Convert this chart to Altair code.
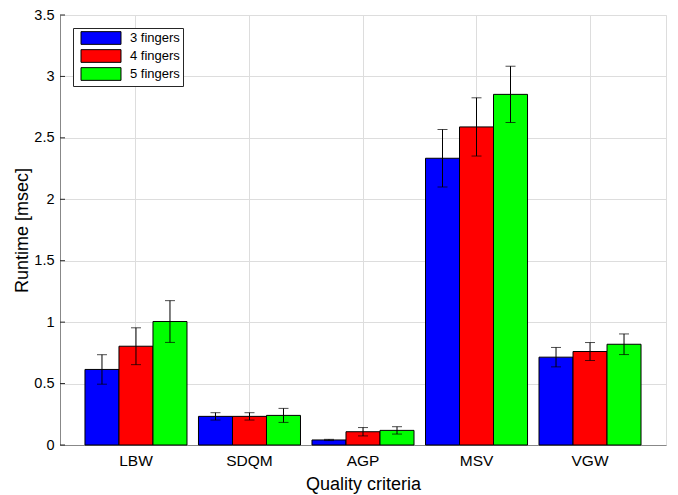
import altair as alt
import pandas as pd

categories = ["LBW", "SDQM", "AGP", "MSV", "VGW"]
series = ["3 fingers", "4 fingers", "5 fingers"]
colors = ["#0000ff", "#ff0000", "#00ff00"]

means_3 = [0.615, 0.233, 0.041, 2.334, 0.715]
means_4 = [0.804, 0.233, 0.108, 2.589, 0.761]
means_5 = [1.005, 0.241, 0.119, 2.854, 0.820]
err_3 = [0.120, 0.030, 0.005, 0.234, 0.079]
err_4 = [0.150, 0.030, 0.034, 0.237, 0.073]
err_5 = [0.170, 0.057, 0.030, 0.229, 0.084]

y_ticks = [0, 0.5, 1, 1.5, 2, 2.5, 3, 3.5]

rows = []
for s, m, e in zip(series, [means_3, means_4, means_5], [err_3, err_4, err_5]):
    for c, mv, ev in zip(categories, m, e):
        rows.append({"cat": c, "series": s, "mean": mv, "lo": mv - ev, "hi": mv + ev})
df = pd.DataFrame(rows)
ticks_df = pd.DataFrame({"t": y_ticks})

FONT = "Liberation Sans"
TXT = "#262626"

x_enc = alt.X("cat:N", sort=categories,
              scale=alt.Scale(paddingInner=0.1013, paddingOuter=0.22),
              axis=alt.Axis(title="Quality criteria", labelAngle=0, grid=True, ticks=False,
                            labelFontSize=15.5, titleFontSize=18, labelPadding=8, titlePadding=7,
                            titleFontWeight="normal"))
xo_enc = alt.XOffset("series:N", sort=series, scale=alt.Scale(paddingInner=0, paddingOuter=0))
y_scale = alt.Scale(domain=[0, 3.5], nice=False, zero=True)

legend = alt.Legend(
    title=None, orient="none", legendX=13, legendY=13,
    symbolType="M-3.15,-1L3.15,-1L3.15,1L-3.15,1Z", symbolSize=161,
    symbolStrokeColor="black", symbolStrokeWidth=1,
    symbolOffset=18, labelOffset=22,
    labelFontSize=13, labelFont=FONT, labelColor="black",
    strokeColor=TXT, fillColor="white", padding=3, rowPadding=0,
)

bars = alt.Chart(df).mark_bar(stroke="black", strokeWidth=1).encode(
    x=x_enc,
    xOffset=xo_enc,
    y=alt.Y("mean:Q", scale=y_scale,
            axis=alt.Axis(title="Runtime [msec]", values=y_ticks, grid=True, ticks=False,
                          format="~g",
                          labelFontSize=14.5, titleFontSize=18, labelPadding=6, titlePadding=2,
                          titleFontWeight="normal")),
    color=alt.Color("series:N", sort=series, scale=alt.Scale(domain=series, range=colors), legend=legend),
)

err = alt.Chart(df).mark_rule(color="black", strokeWidth=1).encode(
    x=alt.X("cat:N", sort=categories), xOffset=alt.XOffset("series:N", sort=series),
    y=alt.Y("lo:Q"), y2="hi:Q")

cap_lo = alt.Chart(df).mark_tick(color="black", size=10, thickness=1, orient="horizontal").encode(
    x=alt.X("cat:N", sort=categories), xOffset=alt.XOffset("series:N", sort=series),
    y=alt.Y("lo:Q"))
cap_hi = alt.Chart(df).mark_tick(color="black", size=10, thickness=1, orient="horizontal").encode(
    x=alt.X("cat:N", sort=categories), xOffset=alt.XOffset("series:N", sort=series),
    y=alt.Y("hi:Q"))

inticks = alt.Chart(ticks_df).mark_rule(color=TXT, strokeWidth=1).encode(
    y=alt.Y("t:Q"), x=alt.value(0), x2=alt.value(5))

chart = alt.layer(bars, err, cap_lo, cap_hi, inticks).properties(
    width=606, height=430,
    padding={"left": 52, "top": 7, "right": 4, "bottom": 50},
    autosize=alt.AutoSizeParams(type="none"),
).configure_view(stroke=None).configure_axis(
    labelFont=FONT, titleFont=FONT, labelColor=TXT, titleColor=TXT,
    domainColor=TXT, gridColor="#e3e3e3", gridWidth=1,
).configure(background="white")

chart.save("out.html", embed_options={"renderer": "svg", "actions": False})
